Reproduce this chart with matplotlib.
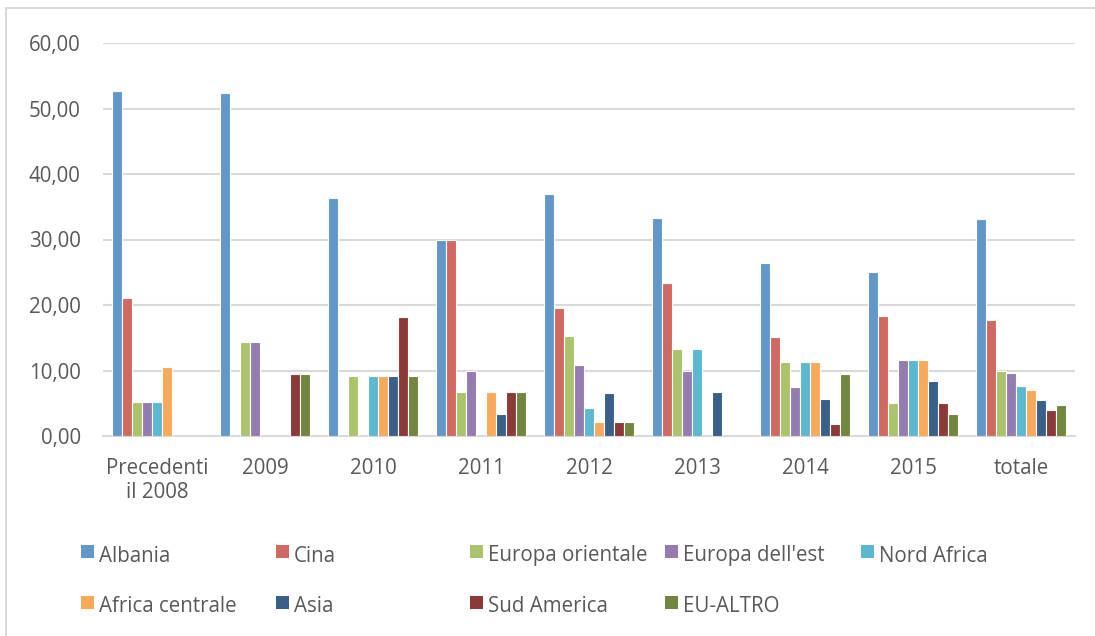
import numpy as np
import matplotlib

matplotlib.use("Agg")
import matplotlib.pyplot as plt
from matplotlib.patches import Rectangle
from matplotlib.ticker import FuncFormatter

plt.rcParams["font.family"] = ["Open Sans", "DejaVu Sans"]

categories = ["Precedenti\nil 2008", "2009", "2010", "2011", "2012", "2013", "2014", "2015", "totale"]
series = ["Albania", "Cina", "Europa orientale", "Europa dell'est", "Nord Africa",
          "Africa centrale", "Asia", "Sud America", "EU-ALTRO"]
colors = ["#6297CA", "#CF6961", "#ABC36B", "#967BB2", "#5BB8D0",
          "#F9A95A", "#386089", "#8B3A38", "#728640"]

albania = [52.63, 52.38, 36.36, 30.00, 36.96, 33.33, 26.42, 25.00, 33.20]
cina = [21.05, 0.00, 0.00, 30.00, 19.57, 23.33, 15.09, 18.33, 17.70]
europa_orientale = [5.26, 14.29, 9.09, 6.67, 15.22, 13.33, 11.32, 5.00, 9.94]
europa_est = [5.26, 14.29, 0.00, 10.00, 10.87, 10.00, 7.55, 11.67, 9.60]
nord_africa = [5.26, 0.00, 9.09, 0.00, 4.35, 13.33, 11.32, 11.67, 7.65]
africa_centrale = [10.53, 0.00, 9.09, 6.67, 2.17, 0.00, 11.32, 11.67, 7.00]
asia = [0.00, 0.00, 9.09, 3.33, 6.52, 6.67, 5.66, 8.33, 5.46]
sud_america = [0.00, 9.52, 18.18, 6.67, 2.17, 0.00, 1.89, 5.00, 4.00]
eu_altro = [0.00, 9.52, 9.09, 6.67, 2.17, 0.00, 9.43, 3.33, 4.74]

values = [albania, cina, europa_orientale, europa_est, nord_africa,
          africa_centrale, asia, sud_america, eu_altro]

W, H = 1095, 636
FS = 14.8
fig = plt.figure(figsize=(W / 100, H / 100), dpi=100)
ax = fig.add_axes([103 / W, 1 - 436 / H, 972 / W, 393 / H])

text_color = "#595959"
grid_color = "#D9D9D9"

x = np.arange(len(categories))
step = 0.0916
n = len(series)
for i, (name, vals, col) in enumerate(zip(series, values, colors)):
    offs = (i - (n - 1) / 2) * step
    ax.bar(x + offs, vals, width=step, color=col, edgecolor="white",
           linewidth=0.8, zorder=3)

ax.set_xlim(-0.5, len(categories) - 0.5)
ax.set_ylim(0, 60)
ax.set_yticks(np.arange(0, 61, 10))
ax.yaxis.set_major_formatter(FuncFormatter(lambda v, p: f"{v:.2f}".replace(".", ",")))
ax.set_xticks(x)
ax.set_xticklabels(categories, linespacing=1.15)
ax.grid(axis="y", color=grid_color, linewidth=1.5, zorder=0)
for s in ["top", "right", "left"]:
    ax.spines[s].set_visible(False)
ax.spines["bottom"].set_color(grid_color)
ax.spines["bottom"].set_linewidth(1.5)
ax.tick_params(axis="both", length=0, labelsize=FS, labelcolor=text_color)
ax.tick_params(axis="y", pad=16)
ax.tick_params(axis="x", pad=16)

# chart area border
fig.patches.append(Rectangle((6 / W, -0.1), 1.2, 1.1 - 8 / H, transform=fig.transFigure,
                             fill=False, edgecolor=grid_color, linewidth=1.5))

# legend laid out like the Excel one: 5 equal columns
col_x = [81, 276, 470, 665, 861]
row_y = [553, 604]
for i, (name, col) in enumerate(zip(series, colors)):
    cx = col_x[i % 5]
    cy = row_y[i // 5]
    fig.patches.append(Rectangle((cx / W, 1 - (cy + 5) / H), 13 / W, 13 / H,
                                 transform=fig.transFigure, facecolor=col, edgecolor="none"))
    fig.text((cx + 18) / W, 1 - (cy + 3) / H, name, fontsize=FS, color=text_color,
             va="center", ha="left")

fig.savefig("out.png", dpi=100)
